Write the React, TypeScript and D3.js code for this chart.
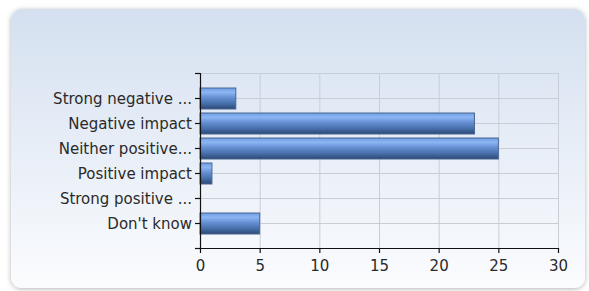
import * as d3 from "d3"
import { useEffect, useRef } from "react"

const categories = [
  "Strong negative ...",
  "Negative impact",
  "Neither positive...",
  "Positive impact",
  "Strong positive ...",
  "Don't know",
]
const responses = [3, 23, 25, 1, 0, 5]
const xTicks = [0, 5, 10, 15, 20, 25, 30]

const W = 589
const H = 291

const App = () => {
  const svgRef = useRef<SVGSVGElement | null>(null)

  useEffect(() => {
    if (!svgRef.current) return
    const root = d3.select(svgRef.current)
    root.selectAll("*").remove()

    const defs = root.append("defs")

    // panel background gradient
    const bg = defs
      .append("linearGradient")
      .attr("id", "panelBg")
      .attr("x1", 0)
      .attr("y1", 0)
      .attr("x2", 0)
      .attr("y2", 1)
    bg.append("stop").attr("offset", "0%").attr("stop-color", "#d4e0f0")
    bg.append("stop").attr("offset", "100%").attr("stop-color", "#fbfcfe")

    // bar gradient
    const bar = defs
      .append("linearGradient")
      .attr("id", "barFill")
      .attr("x1", 0)
      .attr("y1", 0)
      .attr("x2", 0)
      .attr("y2", 1)
    bar.append("stop").attr("offset", "0%").attr("stop-color", "#6e9de6")
    bar.append("stop").attr("offset", "20%").attr("stop-color", "#8cb6f4")
    bar.append("stop").attr("offset", "45%").attr("stop-color", "#6690d4")
    bar.append("stop").attr("offset", "75%").attr("stop-color", "#466ea8")
    bar.append("stop").attr("offset", "100%").attr("stop-color", "#2b4775")

    const shadow = defs
      .append("filter")
      .attr("id", "panelShadow")
      .attr("x", "-5%")
      .attr("y", "-5%")
      .attr("width", "110%")
      .attr("height", "110%")
    shadow
      .append("feDropShadow")
      .attr("dx", 0)
      .attr("dy", 1)
      .attr("stdDeviation", 2.5)
      .attr("flood-color", "#000")
      .attr("flood-opacity", 0.3)

    // panel
    root
      .append("rect")
      .attr("x", 11)
      .attr("y", 9)
      .attr("width", 574)
      .attr("height", 279)
      .attr("rx", 11)
      .attr("fill", "url(#panelBg)")
      .attr("filter", "url(#panelShadow)")

    const margin = { top: 73, left: 200, right: 31, bottom: 43 }
    const x = d3
      .scaleLinear()
      .domain([0, 30])
      .range([margin.left, W - margin.right])
    const y = d3
      .scalePoint<string>()
      .domain(categories)
      .range([margin.top, H - margin.bottom])
      .padding(1)

    const g = root.append("g").style("font-family", "'DejaVu Sans', Verdana, sans-serif")

    // grid
    const grid = g.append("g").attr("stroke", "#c9ced6").attr("stroke-width", 1)
    xTicks.forEach(t => {
      grid
        .append("line")
        .attr("x1", x(t) + 0.5)
        .attr("x2", x(t) + 0.5)
        .attr("y1", margin.top)
        .attr("y2", H - margin.bottom)
    })
    const hLines = [margin.top, ...categories.map(c => y(c) ?? 0)]
    hLines.forEach(v => {
      grid
        .append("line")
        .attr("x1", margin.left)
        .attr("x2", x(30))
        .attr("y1", Math.round(v) + 0.5)
        .attr("y2", Math.round(v) + 0.5)
    })

    // bars
    const barH = 21
    g.selectAll(".bar")
      .data(categories)
      .enter()
      .append("rect")
      .attr("class", "bar")
      .attr("x", x(0))
      .attr("y", d => Math.round((y(d) ?? 0) - barH / 2))
      .attr("width", (_d, i) => x(responses[i]) - x(0))
      .attr("height", barH)
      .attr("fill", "url(#barFill)")
      .attr("stroke", "#4a6690")
      .attr("stroke-width", 1)
      .style("display", (_d, i) => (responses[i] > 0 ? null : "none"))

    // left axis
    const left = g.append("g").attr("stroke", "#111").attr("stroke-width", 1.2)
    left
      .append("line")
      .attr("x1", margin.left + 0.5)
      .attr("x2", margin.left + 0.5)
      .attr("y1", margin.top)
      .attr("y2", H - margin.bottom)
    const leftTicks = [margin.top, ...categories.map(c => y(c) ?? 0), H - margin.bottom]
    leftTicks.forEach(v => {
      left
        .append("line")
        .attr("x1", margin.left - 5)
        .attr("x2", margin.left)
        .attr("y1", Math.round(v) + 0.5)
        .attr("y2", Math.round(v) + 0.5)
    })
    g.selectAll(".ylab")
      .data(categories)
      .enter()
      .append("text")
      .attr("class", "ylab")
      .attr("x", margin.left - 8)
      .attr("y", d => (y(d) ?? 0) + 1)
      .attr("dy", "0.35em")
      .attr("text-anchor", "end")
      .attr("fill", "#2a2a2a")
      .style("font-size", "15px")
      .text(d => d)

    // bottom axis
    const bottomY = H - margin.bottom
    const bottom = g.append("g").attr("stroke", "#111").attr("stroke-width", 1.2)
    bottom
      .append("line")
      .attr("x1", margin.left)
      .attr("x2", x(30) + 1)
      .attr("y1", bottomY + 0.5)
      .attr("y2", bottomY + 0.5)
    xTicks.forEach(t => {
      bottom
        .append("line")
        .attr("x1", x(t) + 0.5)
        .attr("x2", x(t) + 0.5)
        .attr("y1", bottomY)
        .attr("y2", bottomY + 5)
    })
    g.selectAll(".xlab")
      .data(xTicks)
      .enter()
      .append("text")
      .attr("class", "xlab")
      .attr("x", d => x(d) + 0.5)
      .attr("y", bottomY + 23)
      .attr("text-anchor", "middle")
      .attr("fill", "#2a2a2a")
      .style("font-size", "15px")
      .text(d => d)
  }, [])

  return (
    <div style={{ position: "absolute", left: 0, top: 0, width: W, height: H, background: "#fff" }}>
      <svg ref={svgRef} width={W} height={H} style={{ display: "block" }} />
    </div>
  )
}

export default App
